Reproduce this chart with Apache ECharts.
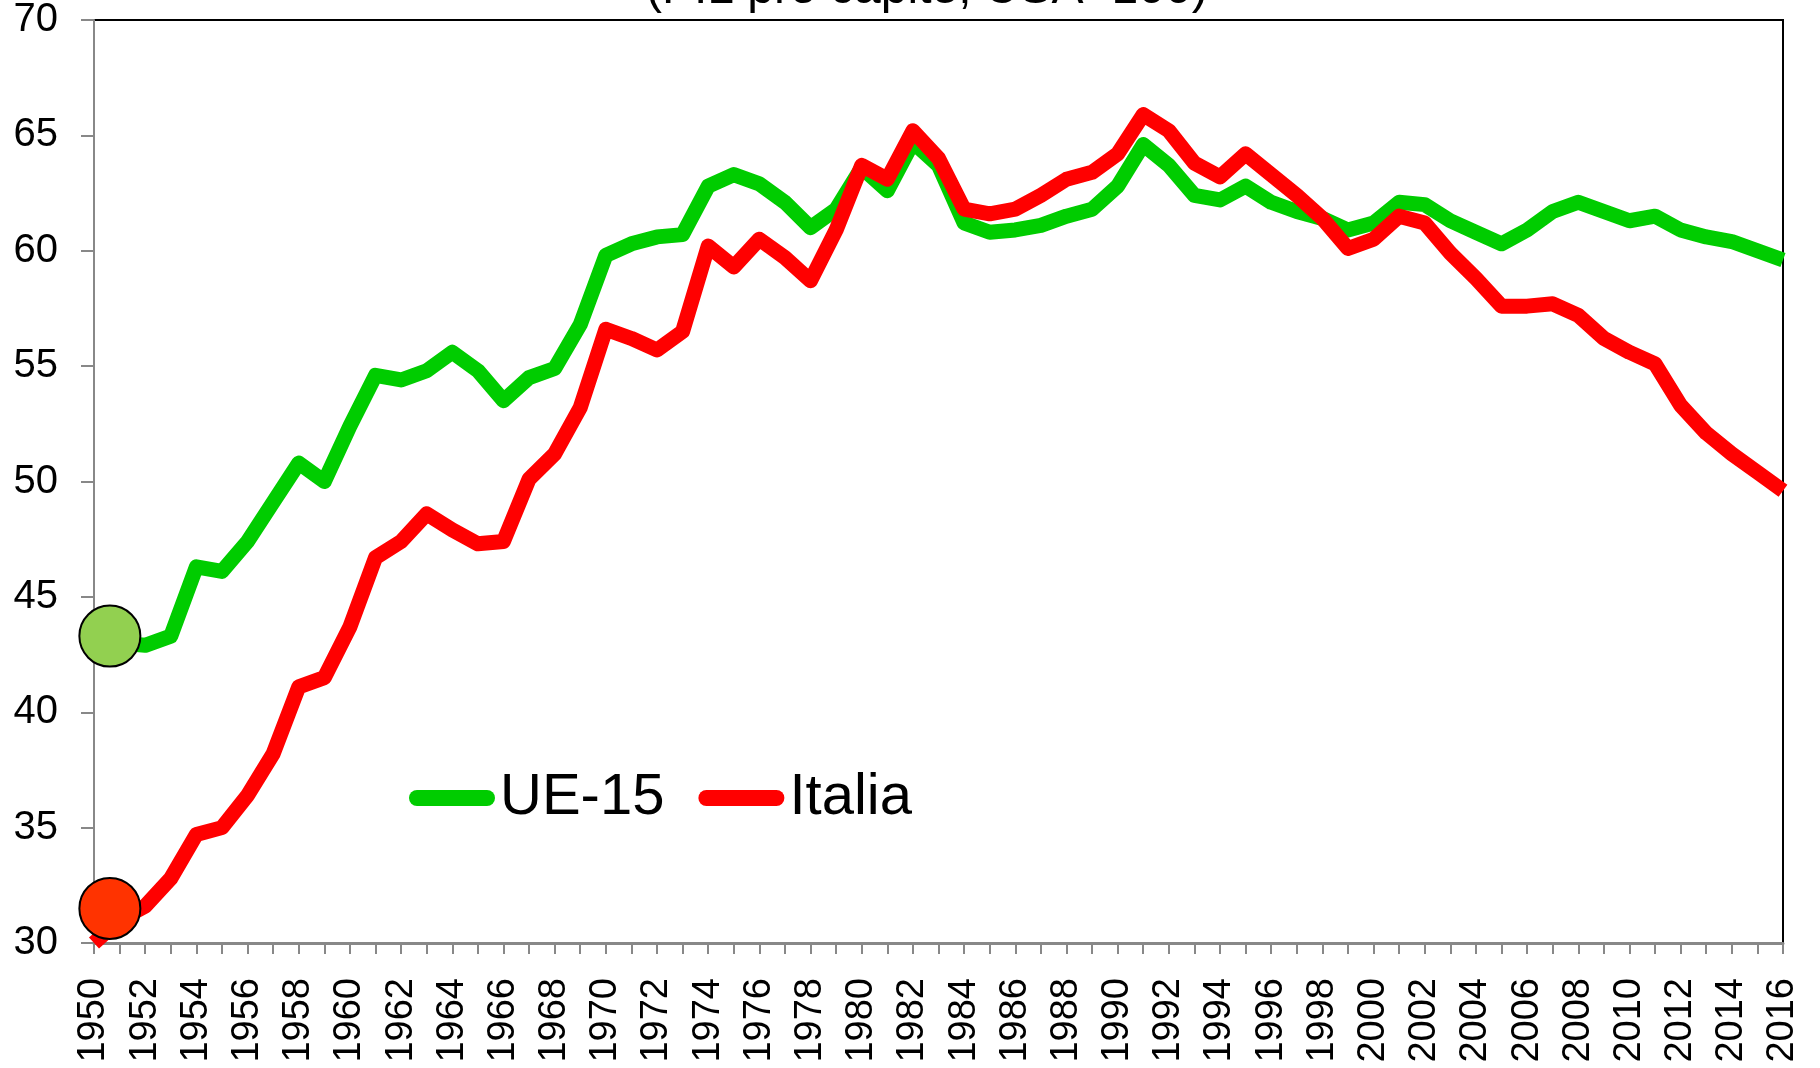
<!DOCTYPE html>
<html>
<head>
<meta charset="utf-8">
<script src="https://cdn.jsdelivr.net/npm/echarts@6/dist/echarts.min.js"></script>
<style>
  html, body { margin: 0; padding: 0; background: #fff; }
  #chart { width: 1820px; height: 1068px; }
</style>
</head>
<body>
<div id="chart"></div>
<script>
var years = [];
for (var y = 1950; y <= 2016; y++) years.push(String(y));

// PIL pro capite, USA=100
var ue15 = [
  43.4, 43.0, 42.9, 43.3, 46.3, 46.1, 47.4, 49.1, 50.8, 50.0,
  52.4, 54.6, 54.4, 54.8, 55.6, 54.8, 53.5, 54.5, 54.9, 56.8,
  59.8, 60.3, 60.6, 60.7, 62.8, 63.3, 62.9, 62.1, 61.0, 61.8,
  63.6, 62.6, 64.7, 63.7, 61.2, 60.8, 60.9, 61.1, 61.5, 61.8,
  62.8, 64.6, 63.7, 62.4, 62.2, 62.8, 62.1, 61.7, 61.4, 60.9,
  61.2, 62.1, 62.0, 61.3, 60.8, 60.3, 60.9, 61.7, 62.1, 61.7,
  61.3, 61.5, 60.9, 60.6, 60.4, 60.0, 59.6
];
var italia = [
  30.0, 31.0, 31.6, 32.8, 34.7, 35.0, 36.4, 38.2, 41.1, 41.5,
  43.7, 46.7, 47.4, 48.6, 47.9, 47.3, 47.4, 50.1, 51.2, 53.2,
  56.6, 56.2, 55.7, 56.5, 60.2, 59.3, 60.5, 59.7, 58.7, 60.9,
  63.7, 63.1, 65.2, 64.0, 61.8, 61.6, 61.8, 62.4, 63.1, 63.4,
  64.2, 65.9, 65.2, 63.8, 63.2, 64.2, 63.3, 62.4, 61.4, 60.1,
  60.5, 61.5, 61.2, 59.9, 58.8, 57.6, 57.6, 57.7, 57.2, 56.2,
  55.6, 55.1, 53.3, 52.1, 51.2, 50.4, 49.6
];
// start markers (position in category index units, value)
var markerPos = 0.62;
var markerUe15 = 43.3;
var markerItalia = 31.5;

var font = '"Liberation Sans", Arial, sans-serif';
var chart = echarts.init(document.getElementById('chart'), null, { renderer: 'canvas' });

var pill = 'path://M8,0 L78,0 A8,8 0 0 1 78,16 L8,16 A8,8 0 0 1 8,0 Z';

chart.setOption({
  animation: false,
  backgroundColor: '#fff',
  textStyle: { fontFamily: font },
  title: {
    text: '(PIL pro capite, USA=100)',
    left: 641,
    top: -39,
    textStyle: { fontSize: 48, fontWeight: 'normal', color: '#000', fontFamily: font }
  },
  legend: {
    left: 409,
    top: 769,
    padding: 0,
    itemWidth: 86,
    itemHeight: 16,
    itemGap: 34,
    textStyle: { fontSize: 58, color: '#000', fontFamily: font },
    data: [
      { name: 'UE-15', icon: pill },
      { name: 'Italia', icon: pill }
    ]
  },
  grid: {
    left: 94, right: 37, top: 20, bottom: 125,
    show: true, borderColor: '#000', borderWidth: 2,
    containLabel: false
  },
  xAxis: [{
    type: 'category',
    data: years,
    boundaryGap: false,
    axisLine: { lineStyle: { color: '#888', width: 3 } },
    axisTick: { show: true, interval: 0, length: 11, lineStyle: { color: '#888', width: 2 } },
    axisLabel: { interval: 1, rotate: 90, fontSize: 38, color: '#000', margin: 35, fontFamily: font },
    splitLine: { show: false }
  }, {
    type: 'value',
    min: 0, max: years.length - 1,
    show: false
  }],
  yAxis: {
    type: 'value',
    min: 30, max: 70, interval: 5,
    axisLine: { show: true, lineStyle: { color: '#888', width: 2 } },
    axisTick: { show: true, length: 13, lineStyle: { color: '#888', width: 2 } },
    axisLabel: { fontSize: 40, color: '#000', margin: 36, fontFamily: font },
    splitLine: { show: false }
  },
  series: [
    {
      name: 'UE-15', type: 'line', data: ue15,
      showSymbol: false, symbol: 'none',
      lineStyle: { color: '#00cc00', width: 15, join: 'round' },
      itemStyle: { color: '#00cc00' },
      z: 2
    },
    {
      name: 'Italia', type: 'line', data: italia,
      showSymbol: false, symbol: 'none',
      lineStyle: { color: '#ff0000', width: 15, join: 'round' },
      itemStyle: { color: '#ff0000' },
      z: 3
    },
    {
      type: 'scatter', xAxisIndex: 1,
      symbolSize: 61,
      data: [
        { value: [markerPos, markerUe15], itemStyle: { color: '#92d050' } },
        { value: [markerPos, markerItalia], itemStyle: { color: '#ff3300' } }
      ],
      itemStyle: { borderColor: '#000', borderWidth: 2, opacity: 1 },
      z: 5
    }
  ]
});
</script>
</body>
</html>
